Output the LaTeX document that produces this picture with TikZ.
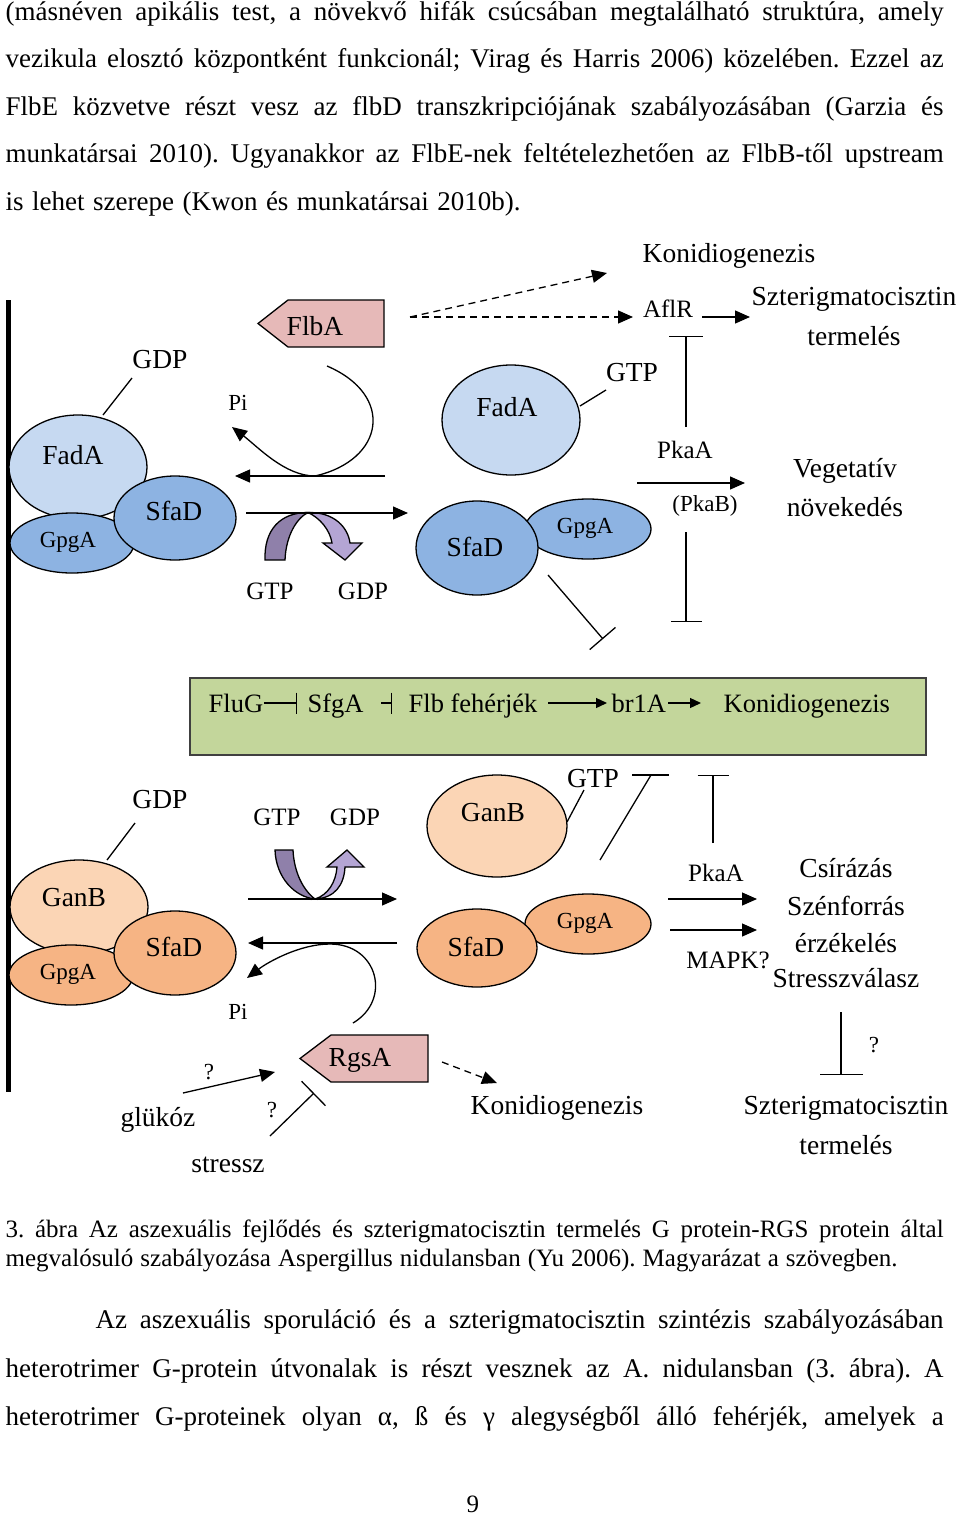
\documentclass[tikz,border=0pt]{standalone}
\usepackage{fontspec}
\setmainfont{Liberation Serif}
\usetikzlibrary{arrows.meta,shapes.geometric}
\definecolor{fadavilagos}{RGB}{198,217,241}
\definecolor{fadasotet}{RGB}{141,179,226}
\definecolor{ganvilagos}{RGB}{251,213,181}
\definecolor{gansotet}{RGB}{246,180,132}
\definecolor{rgsrozsa}{RGB}{230,185,184}
\definecolor{dobozzold}{RGB}{195,214,155}
\definecolor{gtpsotet}{RGB}{143,128,170}
\definecolor{gtpvilagos}{RGB}{180,165,212}
\newcommand{\fsz}[1]{\fontsize{#1}{#1}\selectfont}
\frenchspacing
\begin{document}
\begin{tikzpicture}[x=1pt, y=-1pt, >={Triangle[length=15pt,width=13pt]}, line width=1.3pt,
	ell/.style={ellipse, draw, inner sep=0pt},
	big/.style={inner sep=0pt, font=\fsz{27.5}},
	mid/.style={inner sep=0pt, font=\fsz{25}},
	sml/.style={inner sep=0pt, font=\fsz{23}},
	sor/.style={anchor=base west, inner sep=0pt, font=\fsz{27}},
	inh/.style={-{Bar[width=34pt]}},
	szaggatott/.style={dashed, dash pattern=on 7pt off 5pt}]
		\useasboundingbox (0,0) rectangle (960,1515);
		% szoveg a kep felett
		\node[sor] (sor1) at (5,20) {\makebox[938pt][s]{(másnéven apikális test, a növekvő hifák csúcsában megtalálható struktúra, amely}};
		\node[sor] (sor2) at (5,67.5) {\makebox[938pt][s]{vezikula elosztó központként funkcionál; Virag és Harris 2006) közelében. Ezzel az}};
		\node[sor] (sor3) at (5,115) {\makebox[938pt][s]{FlbE közvetve részt vesz az flbD transzkripciójának szabályozásában (Garzia és}};
		\node[sor] (sor4) at (5,162.5) {\makebox[938pt][s]{munkatársai 2010). Ugyanakkor az FlbE-nek feltételezhetően az FlbB-től upstream}};
		\node[sor] (sor5) at (5,210) {\makebox[515pt][s]{is lehet szerepe (Kwon és munkatársai 2010b).}};
		% membran
		\coordinate (membranfent) at (8,300);
		\coordinate (membranlent) at (8,1092);
		\draw[line width=5pt] (membranfent) -- (membranlent);
		% felso resz: FadA
		\node[ell, fill=fadavilagos, minimum width=138pt, minimum height=104pt] (fada1) at (78,467) {};
		\node[ell, fill=fadasotet, minimum width=124pt, minimum height=60pt] (gpga1) at (72,543) {};
		\node[ell, fill=fadasotet, minimum width=122pt, minimum height=84pt] (sfad1) at (175,518) {};
		\node[big] (fada1t) at (73,455) {FadA};
		\node[sml] (gpga1t) at (68,542) {GpgA};
		\node[big] (sfad1t) at (174,511) {SfaD};
		\node[big] (gdp1) at (160,360) {GDP};
		\coordinate (gdp1a) at (132,378);
		\coordinate (gdp1b) at (103,415);
		\draw (gdp1a) -- (gdp1b);
		\filldraw[fill=rgsrozsa] (258,323.5) -- (288,300) -- (384,300) -- (384,347) -- (288,347) -- cycle;
		\node[big] (flba) at (315,326) {FlbA};
		\node[sml] (pi1) at (238,403) {Pi};
		\filldraw[fill=gtpvilagos] (308,512.5) .. controls (335,512) and (348,528) .. (350,543) -- (362,543) -- (345,560) -- (323,543) -- (332,543) .. controls (330,530) and (320,518) .. (308,512.5) -- cycle;
		\filldraw[fill=gtpsotet] (265,560) .. controls (264,530) and (280,512.5) .. (308,512.5) .. controls (297,518) and (286,535) .. (285,560) -- cycle;
		\coordinate (bal1a) at (385,476);
		\coordinate (bal1b) at (235,476);
		\coordinate (jobb1a) at (246,513);
		\coordinate (jobb1b) at (408,513);
		\draw[->] (bal1a) -- (bal1b);
		\draw[->] (jobb1a) -- (jobb1b);
		\coordinate (gorbe1) at (327,366);
		\coordinate (pinyil1) at (232,427);
		\draw[->] (gorbe1) .. controls (395,395) and (385,460) .. (315,476) .. controls (285,476) and (258,447) .. (pinyil1);
		\node[mid] (gtp1) at (270,591) {GTP};
		\node[mid] (gdp2) at (363,591) {GDP};
		% aktiv FadA
		\node[ell, fill=fadavilagos, minimum width=138pt, minimum height=110pt] (fada2) at (511,420) {};
		\node[big] (fada2t) at (507,407) {FadA};
		\node[big] (gtp2) at (632,373) {GTP};
		\coordinate (gtp2a) at (606,390);
		\coordinate (gtp2b) at (580,406);
		\draw (gtp2a) -- (gtp2b);
		\node[ell, fill=fadasotet, minimum width=126pt, minimum height=60pt] (gpga2) at (588,529) {};
		\node[ell, fill=fadasotet, minimum width=122pt, minimum height=94pt] (sfad2) at (477,548) {};
		\node[sml] (gpga2t) at (585,528) {GpgA};
		\node[big] (sfad2t) at (475,547) {SfaD};
		\coordinate (gatol1a) at (548,575);
		\coordinate (gatol1b) at (603,639);
		\draw[inh] (gatol1a) -- (gatol1b);
		\coordinate (szagg0) at (410,317);
		\coordinate (szagg1) at (607,273);
		\coordinate (szagg2) at (633,317);
		\draw[szaggatott, ->] (szagg0) -- (szagg1);
		\draw[szaggatott, ->] (szagg0) -- (szagg2);
		\node[big] (konid1) at (729,256) {Konidiogenezis};
		\node[mid] (aflr) at (668,309) {AflR};
		\coordinate (aflra) at (702,317);
		\coordinate (aflrb) at (750,317);
		\draw[->] (aflra) -- (aflrb);
		\node[big] (szt1) at (854,299) {Szterigmatocisztin};
		\node[big] (term1) at (854,336) {termelés};
		\coordinate (tfel1a) at (686,427);
		\coordinate (tfel1b) at (686,336);
		\draw[inh] (tfel1a) -- (tfel1b);
		\node[mid] (pkaa1) at (685,450) {PkaA};
		\coordinate (pkaa1a) at (637,483);
		\coordinate (pkaa1b) at (745,483);
		\draw[->] (pkaa1a) -- (pkaa1b);
		\node[sml] (pkab) at (705,506) {(PkaB)};
		\node[big] (veg) at (845,471) {Vegetatív};
		\node[big] (nov) at (845,507) {növekedés};
		\coordinate (tle1a) at (686,532);
		\coordinate (tle1b) at (686,622);
		\draw[-{Bar[width=31pt]}] (tle1a) -- (tle1b);
		% zold doboz
		\node[draw=black!75, fill=dobozzold, line width=1.5pt, anchor=north west, minimum width=736pt, minimum height=77pt] (doboz) at (189,677) {};
		\node[sor, font=\fsz{26.5}] (flug) at (208,712) {FluG};
		\node[sor, font=\fsz{26.5}] (sfga) at (307,712) {SfgA};
		\node[sor, font=\fsz{26.5}] (flb) at (408,712) {Flb fehérjék};
		\node[sor, font=\fsz{26.5}] (brla) at (611,712) {br1A};
		\node[sor, font=\fsz{26.5}] (konid3) at (723,712) {Konidiogenezis};
		\coordinate (flugbar) at (297,703);
		\coordinate (sfgaa) at (381,703);
		\coordinate (sfgabar) at (392,703);
		\coordinate (flba1) at (548,703);
		\coordinate (flbb1) at (607,703);
		\coordinate (brla1) at (668,703);
		\coordinate (brlb1) at (701,703);
		\draw[-{Bar[width=21pt]}] (flug.east |- flugbar) -- (flugbar);
		\draw[-{Bar[width=21pt]}] (sfgaa) -- (sfgabar);
		\draw[-{Triangle[length=11pt,width=10pt]}] (flba1) -- (flbb1);
		\draw[-{Triangle[length=11pt,width=10pt]}] (brla1) -- (brlb1);
		% also resz: GanB
		\node[ell, fill=ganvilagos, minimum width=138pt, minimum height=94pt] (ganb1) at (79,907) {};
		\node[ell, fill=gansotet, minimum width=124pt, minimum height=60pt] (gpga3) at (71,975) {};
		\node[ell, fill=gansotet, minimum width=122pt, minimum height=84pt] (sfad3) at (175,953) {};
		\node[big] (ganb1t) at (74,898) {GanB};
		\node[sml] (gpga3t) at (68,974) {GpgA};
		\node[big] (sfad3t) at (174,947) {SfaD};
		\node[big] (gdp3) at (160,800) {GDP};
		\coordinate (gdp3a) at (135,823);
		\coordinate (gdp3b) at (107,860);
		\draw (gdp3a) -- (gdp3b);
		\node[mid] (gtp3) at (277,817) {GTP};
		\node[mid] (gdp4) at (355,817) {GDP};
		\filldraw[fill=gtpsotet] (275,850) -- (293,850) .. controls (294,872) and (303,890) .. (315,899) .. controls (295,897) and (276,878) .. (275,850) -- cycle;
		\filldraw[fill=gtpvilagos] (315,899) .. controls (335,898) and (344,885) .. (345,867) -- (364,867) -- (347,850) -- (327,867) -- (337,867) .. controls (336,882) and (328,895) .. (315,899) -- cycle;
		\coordinate (jobb2a) at (248,899);
		\coordinate (jobb2b) at (397,899);
		\coordinate (bal2a) at (397,943);
		\coordinate (bal2b) at (248,943);
		\draw[->] (jobb2a) -- (jobb2b);
		\draw[->] (bal2a) -- (bal2b);
		\coordinate (gorbe2) at (353,1023);
		\coordinate (pinyil2) at (247,978);
		\draw[->] (gorbe2) .. controls (392,1000) and (378,944) .. (330,944) .. controls (300,944) and (268,962) .. (pinyil2);
		\node[sml] (pi2) at (238,1012) {Pi};
		\filldraw[fill=rgsrozsa] (300,1058.5) -- (331,1035) -- (428,1035) -- (428,1082) -- (331,1082) -- cycle;
		\node[big] (rgsa) at (360,1060) {RgsA};
		\node[sml] (k1) at (209,1072) {?};
		\node[sml] (k2) at (272,1110) {?};
		\node[big] (gluk) at (158,1120) {glükóz};
		\node[big] (stressz) at (228,1165) {stressz};
		\coordinate (gluka) at (183,1093);
		\coordinate (glukb) at (275,1072);
		\draw[->] (gluka) -- (glukb);
		\coordinate (stra) at (270,1136);
		\coordinate (strb) at (314,1093);
		\draw[inh] (stra) -- (strb);
		\coordinate (rgsszagg1) at (442,1062);
		\coordinate (rgsszagg2) at (497,1083);
		\draw[szaggatott, ->] (rgsszagg1) -- (rgsszagg2);
		\node[big] (konid2) at (557,1108) {Konidiogenezis};
		% aktiv GanB
		\node[ell, fill=ganvilagos, minimum width=140pt, minimum height=102pt] (ganb2) at (497,826) {};
		\node[big] (ganb2t) at (493,813) {GanB};
		\node[big] (gtp4) at (593,779) {GTP};
		\coordinate (gtp4a) at (584,790);
		\coordinate (gtp4b) at (567,822);
		\draw (gtp4a) -- (gtp4b);
		\node[ell, fill=gansotet, minimum width=126pt, minimum height=60pt] (gpga4) at (588,924) {};
		\node[ell, fill=gansotet, minimum width=120pt, minimum height=78pt] (sfad4) at (477,948) {};
		\node[sml] (gpga4t) at (585,923) {GpgA};
		\node[big] (sfad4t) at (476,947) {SfaD};
		\coordinate (hosszua) at (600,860);
		\coordinate (hosszub) at (651,775);
		\coordinate (hosszubal) at (632,775);
		\coordinate (hosszujobb) at (669,775);
		\draw (hosszua) -- (hosszub);
		\draw (hosszubal) -- (hosszujobb);
		\coordinate (tfel2a) at (713,843);
		\coordinate (tfel2b) at (713,775);
		\draw[-{Bar[width=31pt]}] (tfel2a) -- (tfel2b);
		\node[mid] (pkaa2) at (716,873) {PkaA};
		\node[mid] (mapk) at (728,960) {MAPK?};
		\coordinate (pkaa2a) at (668,899);
		\coordinate (pkaa2b) at (757,899);
		\coordinate (mapka) at (670,930);
		\coordinate (mapkb) at (757,930);
		\draw[->] (pkaa2a) -- (pkaa2b);
		\draw[->] (mapka) -- (mapkb);
		\node[big] (csir) at (846,868) {Csírázás};
		\node[big] (szen) at (846,906) {Szénforrás};
		\node[big] (erz) at (846,943) {érzékelés};
		\node[big] (strv) at (846,978) {Stresszválasz};
		\coordinate (tle2a) at (841,1012);
		\coordinate (tle2b) at (841,1075);
		\draw[-{Bar[width=43pt]}] (tle2a) -- (tle2b);
		\node[sml] (k3) at (874,1045) {?};
		\node[big] (szt2) at (846,1108) {Szterigmatocisztin};
		\node[big] (term2) at (846,1145) {termelés};
		% abrafelirat es szoveg
		\node[sor, font=\fsz{25}] (fel1) at (5,1237) {\makebox[938pt][s]{3. ábra Az aszexuális fejlődés és szterigmatocisztin termelés G protein-RGS protein által}};
		\node[sor, font=\fsz{25}] (fel2) at (5,1266) {\makebox[892pt][s]{megvalósuló szabályozása Aspergillus nidulansban (Yu 2006). Magyarázat a szövegben.}};
		\node[sor] (sor6) at (95,1328) {\makebox[848pt][s]{Az aszexuális sporuláció és a szterigmatocisztin szintézis szabályozásában}};
		\node[sor] (sor7) at (5,1377) {\makebox[938pt][s]{heterotrimer G-protein útvonalak is részt vesznek az A. nidulansban (3. ábra). A}};
		\node[sor] (sor8) at (5,1425) {\makebox[938pt][s]{heterotrimer G-proteinek olyan α, ß és γ alegységből álló fehérjék, amelyek a}};
		\node[sor, font=\fsz{25}] (oldal) at (466,1512) {9};
\end{tikzpicture}
\end{document}
